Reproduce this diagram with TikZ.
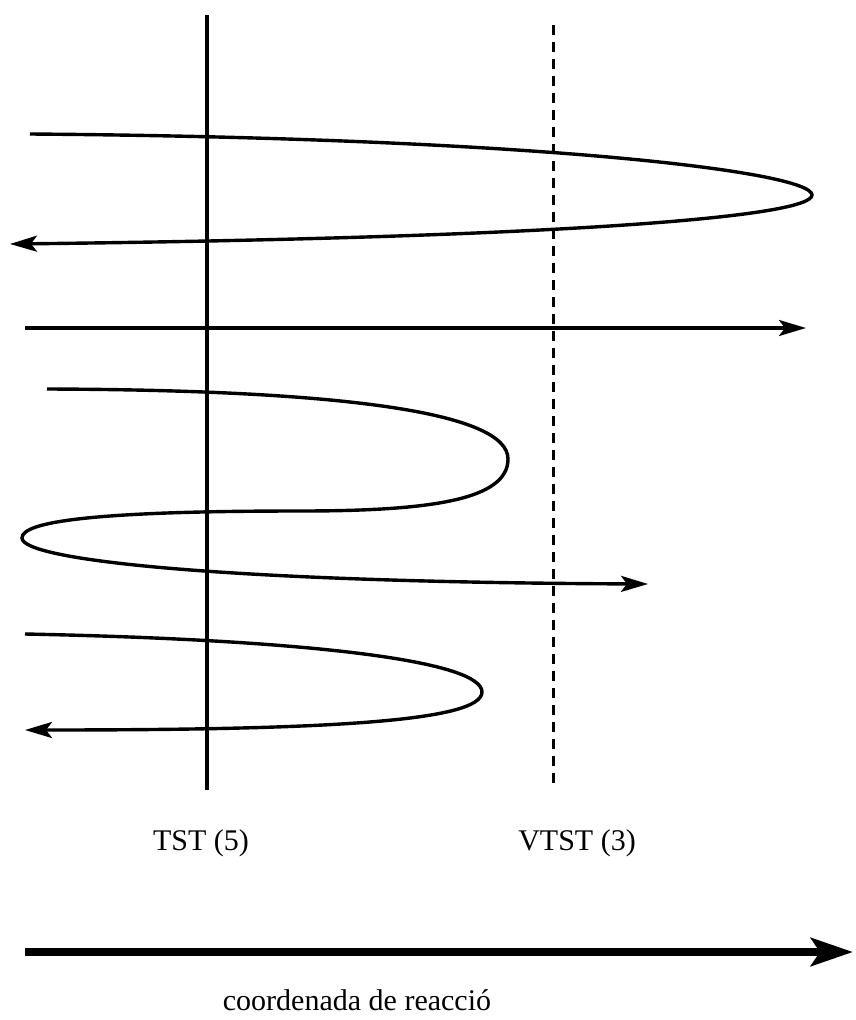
\documentclass[tikz,border=0pt]{standalone}
\usepackage{fontspec}
\setmainfont{Liberation Serif}
\usetikzlibrary{arrows.meta}
\begin{document}
\begin{tikzpicture}[x=1pt,y=-1pt,
  traj/.style={line width=3.4pt,-{Stealth[length=27pt,width=16pt,inset=6pt]}},
  lbl/.style={font=\fontsize{30}{36}\selectfont,inner sep=0pt,anchor=base},
  big/.style={line width=8pt,-{Stealth[length=42pt,width=28pt,inset=9pt]}}]
\useasboundingbox (0,0) rectangle (855,1020);
% dividing surfaces
\coordinate (tstT) at (207,15);
\coordinate (tstB) at (207,790);
\coordinate (vtT) at (553,25);
\coordinate (vtB) at (553,790);
\draw[line width=3.4pt] (tstT) -- (tstB);
\draw[line width=3pt,dash pattern=on 10pt off 7pt] (vtT) -- (vtB);
% trajectory 1
\coordinate (a0) at (30,134);
\coordinate (a1) at (812,195);
\coordinate (a2) at (10,244);
\draw[traj] (a0) .. controls (540,138) and (812,172) .. (a1)
  .. controls (812,218) and (540,238) .. (a2);
% straight trajectory
\coordinate (b0) at (25,328);
\coordinate (b1) at (806,328);
\draw[traj] (b0) -- (b1);
% trajectory 2
\coordinate (c0) at (47,389);
\coordinate (c1) at (508,459);
\coordinate (c2) at (300,511);
\coordinate (c3) at (22,538);
\coordinate (c4) at (648,584);
\draw[traj] (c0) .. controls (340,390) and (508,412) .. (c1)
  .. controls (508,500) and (430,511) .. (c2)
  .. controls (90,511) and (22,522) .. (c3)
  .. controls (22,560) and (220,582) .. (c4);
% trajectory 3
\coordinate (d0) at (25,634);
\coordinate (d1) at (482,692);
\coordinate (d2) at (25,730);
\draw[traj] (d0) .. controls (320,640) and (482,662) .. (d1)
  .. controls (482,722) and (320,730) .. (d2);
% labels
\node[lbl] (tst) at (201,850) {TST (5)};
\node[lbl] (vtst) at (577,850) {VTST (3)};
% reaction coordinate
\coordinate (r0) at (25,952);
\coordinate (r1) at (853,952);
\draw[big] (r0) -- (r1);
\node[lbl] (rc) at (357,1010) {coordenada de reacció};
\end{tikzpicture}
\end{document}
